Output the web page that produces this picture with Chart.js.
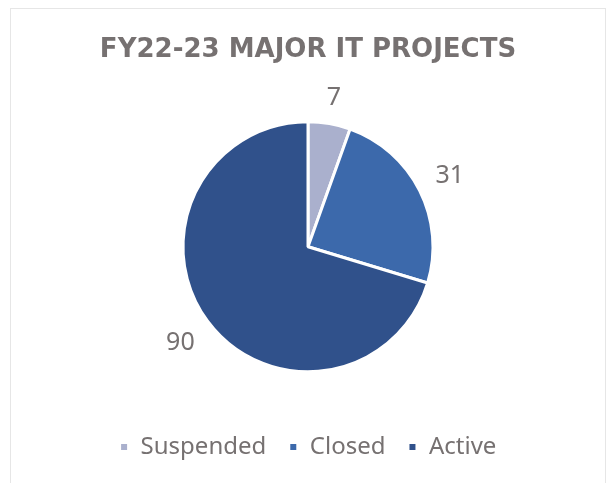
<!DOCTYPE html>
<html>
<head>
<meta charset="utf-8">
<script src="https://cdn.jsdelivr.net/npm/chart.js@4.4.0/dist/chart.umd.min.js"></script>
<style>
  body { margin: 0; background: #fff; }
  #wrap { position: relative; width: 610px; height: 483px; }
  #frame { position: absolute; left: 10px; top: 8px; width: 594px; height: 490px; border: 1px solid #e6e6e6; }
  canvas { position: absolute; left: 0; top: 0; }
</style>
</head>
<body>
<div id="wrap">
  <div id="frame"></div>
  <canvas id="pieChart" width="610" height="483"></canvas>
</div>
<script>
// dados do grafico
const categories = ['Suspended', 'Closed', 'Active'];
const projectCounts = [7, 31, 90];
const sliceColors = ['#aab0cd', '#3c69ab', '#30518b'];

const textGray = '#767171';
const fontName = '"Noto Sans", sans-serif';

// rotulos de valor fora das fatias (distancia ajustada pelo tamanho do texto)
const outsideLabels = {
    id: 'outsideLabels',
    afterDatasetsDraw(chart) {
        const ctx = chart.ctx;
        const meta = chart.getDatasetMeta(0);
        ctx.save();
        ctx.font = '25px ' + fontName;
        ctx.fillStyle = textGray;
        ctx.textAlign = 'center';
        ctx.textBaseline = 'middle';
        meta.data.forEach(function(arc, i) {
            const p = arc.getProps(['x', 'y', 'startAngle', 'endAngle', 'outerRadius'], true);
            const mid = (p.startAngle + p.endAngle) / 2;
            const txt = String(chart.data.datasets[0].data[i]);
            const w = ctx.measureText(txt).width;
            const h = 18;
            const dist = p.outerRadius + 17 + Math.abs(Math.cos(mid)) * w / 2 + Math.abs(Math.sin(mid)) * h / 2;
            ctx.fillText(txt, p.x + Math.cos(mid) * dist, p.y + Math.sin(mid) * dist + 1);
        });
        ctx.restore();
    }
};

window.onload = function() {
    const ctx = document.getElementById('pieChart').getContext('2d');
    new Chart(ctx, {
        type: 'pie',
        data: {
            labels: categories,
            datasets: [{
                data: projectCounts,
                backgroundColor: sliceColors,
                borderColor: '#ffffff',
                borderWidth: 3
            }]
        },
        options: {
            responsive: false,
            animation: false,
            radius: 125,
            layout: { padding: { left: 6, right: 0, top: 0, bottom: 14 } },
            plugins: {
                title: {
                    display: true,
                    text: 'FY22-23 MAJOR IT PROJECTS',
                    color: textGray,
                    font: { family: '"DejaVu Sans", sans-serif', size: 26, weight: 'bold', lineHeight: 1.2 },
                    padding: { top: 34.4, bottom: 15.4 }
                },
                legend: {
                    position: 'bottom',
                    labels: {
                        color: textGray,
                        font: { family: fontName, size: 24 },
                        boxWidth: 9,
                        boxHeight: 9,
                        padding: 22.5
                    }
                },
                tooltip: { enabled: false }
            }
        },
        plugins: [outsideLabels]
    });
};
</script>
</body>
</html>
